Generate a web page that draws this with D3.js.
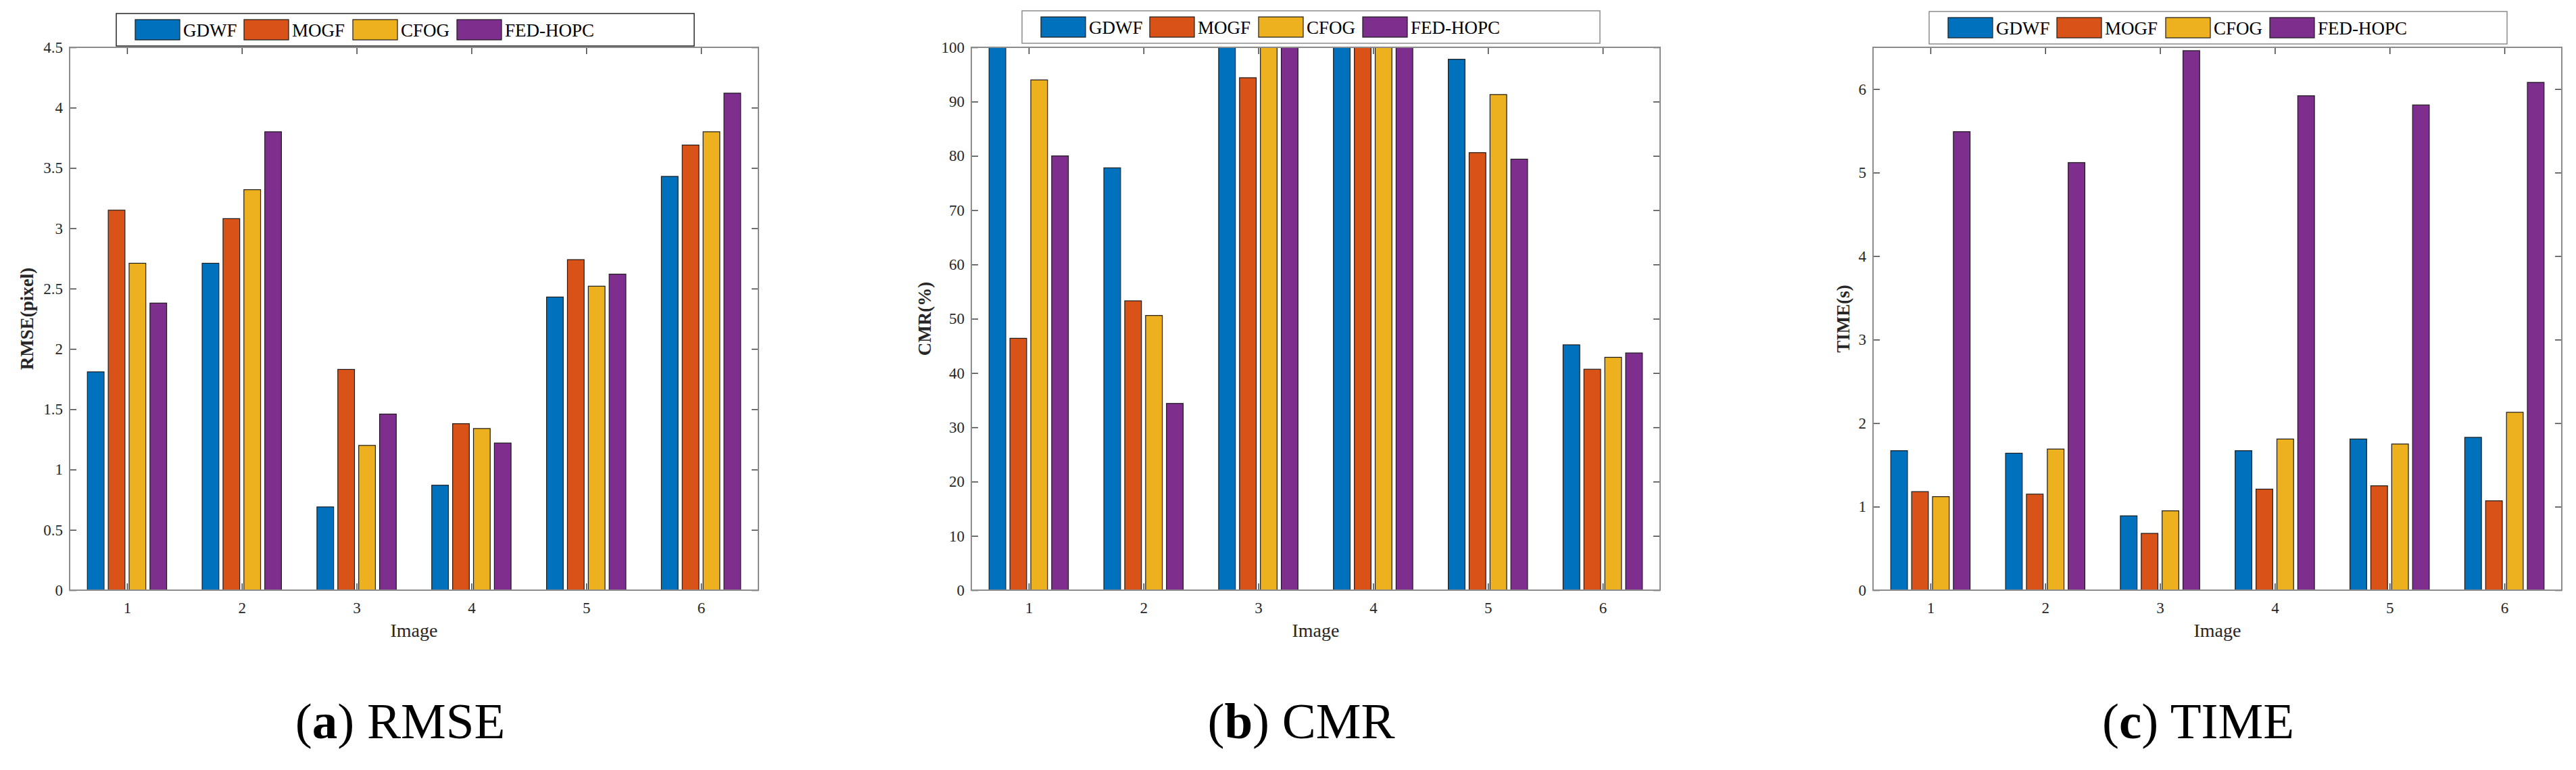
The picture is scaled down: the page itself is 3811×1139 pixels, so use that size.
<!DOCTYPE html>
<html>
<head>
<meta charset="utf-8">
<script src="https://cdn.jsdelivr.net/npm/d3@7"></script>
<style>
  body { margin: 0; background: #fff; }
  svg { display: block; font-family: "Liberation Serif", "Times New Roman", serif; }
</style>
</head>
<body>
<svg id="fig" width="3811" height="1139"></svg>
<script>
// categories and series
const images = [1, 2, 3, 4, 5, 6];
const methods = ["GDWF", "MOGF", "CFOG", "FED-HOPC"];
const colors = ["#0072BD", "#D95319", "#EDB120", "#7E2F8E"];

// (a) RMSE (pixel)
const rmseGDWF = [1.81, 2.71, 0.69, 0.87, 2.43, 3.43];
const rmseMOGF = [3.15, 3.08, 1.83, 1.38, 2.74, 3.69];
const rmseCFOG = [2.71, 3.32, 1.20, 1.34, 2.52, 3.80];
const rmseFED = [2.38, 3.80, 1.46, 1.22, 2.62, 4.12];
const rmseTicks = [0, 0.5, 1, 1.5, 2, 2.5, 3, 3.5, 4, 4.5];

// (b) CMR (%)
const cmrGDWF = [100, 77.8, 100, 100, 97.8, 45.2];
const cmrMOGF = [46.4, 53.3, 94.4, 100, 80.6, 40.7];
const cmrCFOG = [94.0, 50.6, 100, 100, 91.3, 42.9];
const cmrFED = [80.0, 34.4, 100, 100, 79.4, 43.7];
const cmrTicks = [0, 10, 20, 30, 40, 50, 60, 70, 80, 90, 100];

// (c) TIME (s)
const timeGDWF = [1.67, 1.64, 0.89, 1.67, 1.81, 1.83];
const timeMOGF = [1.18, 1.15, 0.68, 1.21, 1.25, 1.07];
const timeCFOG = [1.12, 1.69, 0.95, 1.81, 1.75, 2.13];
const timeFED = [5.49, 5.12, 6.46, 5.92, 5.81, 6.08];
const timeTicks = [0, 1, 2, 3, 4, 5, 6];

const panels = [
    { series: [rmseGDWF, rmseMOGF, rmseCFOG, rmseFED], ymax: 4.5, ticks: rmseTicks,
      ylabel: "RMSE(pixel)", tag: "a", caption: " RMSE",
      left: 103, labelOff: 63, legLeft: 172, legTop: 20, legStroke: "#262626", capX: 592 },
    { series: [cmrGDWF, cmrMOGF, cmrCFOG, cmrFED], ymax: 100, ticks: cmrTicks,
      ylabel: "CMR(%)", tag: "b", caption: " CMR",
      left: 1437, labelOff: 69, legLeft: 1512, legTop: 16, legStroke: "#8c8c8c", capX: 1925 },
    { series: [timeGDWF, timeMOGF, timeCFOG, timeFED], ymax: 6.5, ticks: timeTicks,
      ylabel: "TIME(s)", tag: "c", caption: " TIME",
      left: 2771, labelOff: 44, legLeft: 2854, legTop: 17, legStroke: "#8c8c8c", capX: 3252 }
];

const plotW = 1019, plotTop = 70, plotBottom = 873;
const legW = 855, legH = 48;
const legOffsets = [28, 189, 350, 504];
const textColor = "#262626";
const fmt = d3.format("~g");

const svg = d3.select("#fig");

function styleAxis(sel) {
    sel.select(".domain").remove();
    sel.selectAll(".tick line").attr("stroke", "#404040").attr("stroke-width", 1.5);
    sel.selectAll(".tick text")
        .attr("fill", textColor)
        .style("font-size", "23px")
        .style("font-family", "\"Liberation Serif\", \"Times New Roman\", serif");
}

panels.forEach((p) => {
    const g = svg.append("g");
    const x = d3.scaleLinear().domain([0.5, 6.5]).range([p.left, p.left + plotW]);
    const y = d3.scaleLinear().domain([0, p.ymax]).range([plotBottom, plotTop]);

    // MATLAB style grouped bars
    const groupW = Math.min(0.8, methods.length / (methods.length + 1.5));
    const pitch = groupW / methods.length;
    const barW = pitch * 0.8;

    p.series.forEach((vals, j) => {
        g.append("g").selectAll("rect")
            .data(vals)
            .enter()
            .append("rect")
            .attr("x", (d, i) => x(images[i] + (j - 1.5) * pitch - barW / 2))
            .attr("width", x(0.5 + barW) - x(0.5))
            .attr("y", (d) => y(d))
            .attr("height", (d) => y(0) - y(d))
            .attr("fill", colors[j])
            .attr("stroke", "#1a1a1a")
            .attr("stroke-width", 1.2);
    });

    // axes with inward ticks on all four sides
    g.append("g").attr("transform", "translate(" + p.left + ",0)")
        .call(d3.axisLeft(y).tickValues(p.ticks).tickFormat(fmt).tickSize(-10).tickSizeOuter(0).tickPadding(10))
        .call(styleAxis);
    g.append("g").attr("transform", "translate(" + (p.left + plotW) + ",0)")
        .call(d3.axisRight(y).tickValues(p.ticks).tickSize(-10).tickSizeOuter(0).tickFormat(""))
        .call(styleAxis);
    g.append("g").attr("transform", "translate(0," + plotBottom + ")")
        .call(d3.axisBottom(x).tickValues(images).tickFormat(fmt).tickSize(-10).tickSizeOuter(0).tickPadding(18))
        .call(styleAxis);
    g.append("g").attr("transform", "translate(0," + plotTop + ")")
        .call(d3.axisTop(x).tickValues(images).tickSize(-10).tickSizeOuter(0).tickFormat(""))
        .call(styleAxis);

    // box
    g.append("rect")
        .attr("x", p.left).attr("y", plotTop)
        .attr("width", plotW).attr("height", plotBottom - plotTop)
        .attr("fill", "none").attr("stroke", "#8c8c8c").attr("stroke-width", 2);

    // axis labels
    g.append("text")
        .attr("transform", "translate(" + (p.left - p.labelOff) + "," + ((plotTop + plotBottom) / 2) + ") rotate(-90)")
        .attr("text-anchor", "middle")
        .attr("dominant-baseline", "central")
        .attr("fill", textColor)
        .style("font-size", "27px")
        .style("font-weight", "bold")
        .text(p.ylabel);

    g.append("text")
        .attr("x", p.left + plotW / 2).attr("y", 942)
        .attr("text-anchor", "middle")
        .attr("fill", textColor)
        .style("font-size", "28px")
        .text("Image");

    // legend
    const leg = g.append("g");
    leg.append("rect")
        .attr("x", p.legLeft).attr("y", p.legTop)
        .attr("width", legW).attr("height", legH)
        .attr("fill", "#fff").attr("stroke", p.legStroke).attr("stroke-width", 1.5);
    methods.forEach((m, j) => {
        const sx = p.legLeft + legOffsets[j];
        leg.append("rect")
            .attr("x", sx).attr("y", p.legTop + 9)
            .attr("width", 66).attr("height", 30)
            .attr("fill", colors[j]).attr("stroke", "#1a1a1a").attr("stroke-width", 1.2);
        leg.append("text")
            .attr("x", sx + 71).attr("y", p.legTop + 34)
            .attr("fill", "#000")
            .style("font-size", "27px")
            .text(m);
    });

    // caption under each panel
    const cap = g.append("text")
        .attr("x", p.capX).attr("y", 1092)
        .attr("text-anchor", "middle")
        .attr("fill", "#000")
        .style("font-size", "75px");
    cap.append("tspan").text("(");
    cap.append("tspan").style("font-weight", "bold").text(p.tag);
    cap.append("tspan").text(")" + p.caption);
});
</script>
</body>
</html>
